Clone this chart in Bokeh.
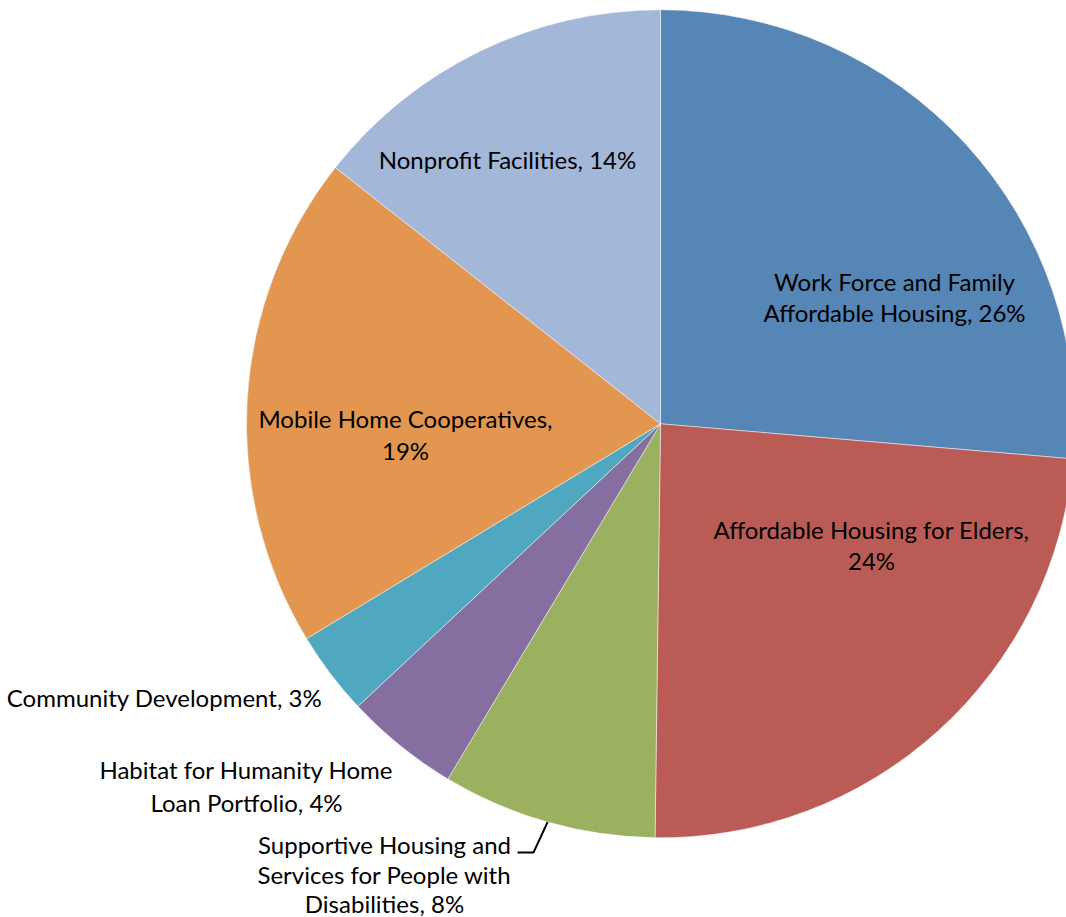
import math
from bokeh.plotting import figure
from bokeh.models import Range1d, ColumnDataSource
from bokeh.core.properties import value
from bokeh.embed import file_html
from bokeh.resources import INLINE

# ---- data ----
categories = [
    "Work Force and Family Affordable Housing",
    "Affordable Housing for Elders",
    "Supportive Housing and Services for People with Disabilities",
    "Habitat for Humanity Home Loan Portfolio",
    "Community Development",
    "Mobile Home Cooperatives",
    "Nonprofit Facilities",
]
shares = [26.34, 23.85, 8.37, 4.46, 3.27, 19.30, 14.37]
colors = ["#5586B5", "#BA5C55", "#9BB15F", "#846FA0", "#4FA8BF", "#E2964F", "#A3B7D8"]
label_lines = [
    ["Work Force and Family", "Affordable Housing, 26%"],
    ["Affordable Housing for Elders,", "24%"],
    ["Supportive Housing and", "Services for People with", "Disabilities, 8%"],
    ["Habitat for Humanity Home", "Loan Portfolio, 4%"],
    ["Community Development, 3%"],
    ["Mobile Home Cooperatives,", "19%"],
    ["Nonprofit Facilities, 14%"],
]

# ---- layout (screen pixel coordinates) ----
W, H = 1066, 917
CX, CY, R = 660, 423.3, 414
FONT = "Lato"
FONT_SIZE = "24px"
# label block centers (screen x, y of first line), line spacing
label_pos = [
    (894, 281, 30.5), (871, 529, 31), (384, 844, 29.5), (246, 769, 33),
    (164, 697, 31), (405, 418, 31.5), (507, 159, 31)
]

def sy(y):
    return H - y

p = figure(width=W, height=H, output_backend="svg", toolbar_location=None,
           x_range=Range1d(0, W), y_range=Range1d(0, H),
           min_border=0, min_border_left=0, min_border_right=0,
           min_border_top=0, min_border_bottom=0)
p.axis.visible = False
p.grid.visible = False
p.outline_line_color = None
p.background_fill_color = "white"
p.border_fill_color = "white"

total = sum(shares)
starts, ends, mids = [], [], []
acc = 0.0
for s in shares:
    a0 = acc / total * 2 * math.pi
    acc += s
    a1 = acc / total * 2 * math.pi
    starts.append(math.pi / 2 - a0)
    ends.append(math.pi / 2 - a1)
    mids.append(math.pi / 2 - (a0 + a1) / 2)

src = ColumnDataSource(dict(start=starts, end=ends, color=colors, cat=categories))
p.wedge(x=CX, y=sy(CY), radius=R, start_angle="start", end_angle="end",
        direction="clock", fill_color="color", line_color="white",
        line_alpha=0.6, line_width=0.8, source=src)

# labels
tx, ty, tt = [], [], []
for (lx, ly, lh), lines in zip(label_pos, label_lines):
    for i, line in enumerate(lines):
        tx.append(lx)
        ty.append(sy(ly + i * lh))
        tt.append(line)
p.text(x=tx, y=ty, text=tt, text_align="center", text_baseline="middle",
       text_font=value(FONT), text_font_size=FONT_SIZE, text_color="black")

# leader line for the Supportive Housing label
k = 2
ex = CX + R * math.cos(mids[k])
ey = sy(CY) + R * math.sin(mids[k])
p.line(x=[ex, 533, 517], y=[ey, sy(852), sy(852)], line_color="black", line_width=2)

open("out.html", "w").write(file_html(p, INLINE))
